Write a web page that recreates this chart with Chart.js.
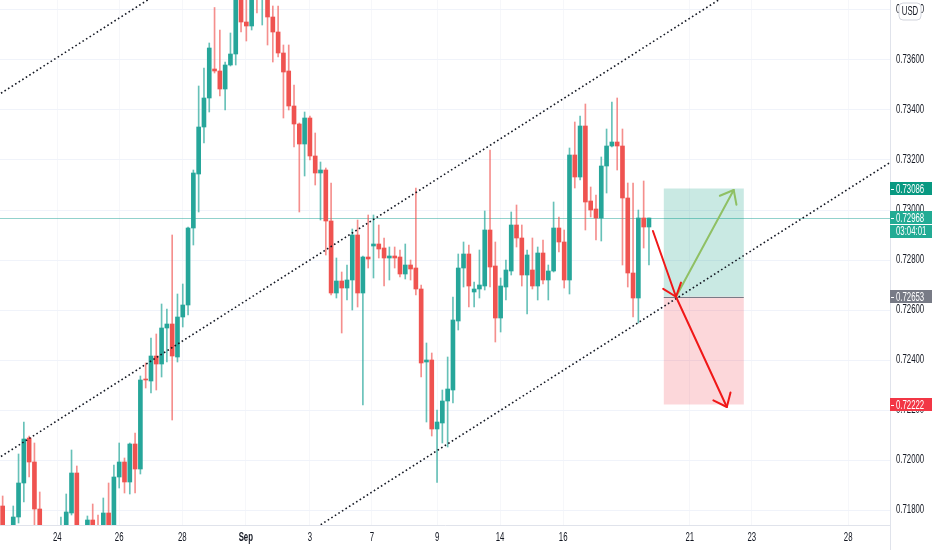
<!DOCTYPE html>
<html>
<head>
<meta charset="utf-8">
<script src="https://cdn.jsdelivr.net/npm/chart.js@4.4.0/dist/chart.umd.min.js"></script>
<style>
    html, body { margin: 0; padding: 0; background: #fff; }
    #wrap { width: 932px; height: 550px; position: relative; }
</style>
</head>
<body>
<div id="wrap"><canvas id="chart"></canvas></div>
<script>
// 4H candles, index 0 = leftmost
const opens = [
    0.71816, 0.7169, 0.71732, 0.71772, 0.71908, 0.72088, 0.71992, 0.71804, 0.7172, 0.7166,
    0.7169, 0.7170, 0.71732, 0.71788, 0.71948, 0.7172, 0.71736, 0.7176, 0.7173, 0.71736,
    0.71788, 0.7174, 0.71932, 0.71992, 0.71912, 0.72064, 0.71964, 0.72324, 0.72316, 0.72416,
    0.72384, 0.72528, 0.72544, 0.72412, 0.72572, 0.7262, 0.72928, 0.73144, 0.73332, 0.73448,
    0.73564, 0.73556, 0.73484, 0.7358, 0.73624, 0.7388, 0.73752, 0.73736, 0.7392, 0.7387,
    0.7392, 0.73772, 0.73712, 0.73628, 0.73556, 0.73416, 0.73344, 0.73264, 0.73368, 0.73216,
    0.73148, 0.7316, 0.72956, 0.72668, 0.72716, 0.72688, 0.7272, 0.729, 0.72668, 0.72812,
    0.72856, 0.72864, 0.72848, 0.72808, 0.72816, 0.72812, 0.72744, 0.7278, 0.72768, 0.72684,
    0.72392, 0.724, 0.72124, 0.72148, 0.72236, 0.7228, 0.72556, 0.72768, 0.72824, 0.72672,
    0.72684, 0.72696, 0.7292, 0.72776, 0.72568, 0.72692, 0.72756, 0.7294, 0.72888, 0.7274,
    0.7276, 0.72696, 0.72828, 0.7272, 0.72756, 0.72928, 0.72872, 0.7272, 0.7322, 0.73132,
    0.73336, 0.73036, 0.73004, 0.72968, 0.73176, 0.73256, 0.73272, 0.73256, 0.73048, 0.72748,
    0.72648, 0.72968, 0.72932
];
const highs = [
    0.71856, 0.7173, 0.71816, 0.72024, 0.72152, 0.72096, 0.72068, 0.71872, 0.7173, 0.7172,
    0.7173, 0.71772, 0.71864, 0.7204, 0.71976, 0.7173, 0.71776, 0.71824, 0.7178, 0.71848,
    0.71908, 0.7198, 0.72068, 0.72008, 0.72068, 0.72108, 0.72336, 0.72388, 0.72488, 0.72504,
    0.72624, 0.72604, 0.729, 0.72664, 0.72704, 0.72932, 0.7316, 0.73496, 0.73568, 0.73668,
    0.7381, 0.7372, 0.73592, 0.73708, 0.7392, 0.7394, 0.7386, 0.7393, 0.7398, 0.7399,
    0.7396, 0.73816, 0.73816, 0.7366, 0.7366, 0.735, 0.73348, 0.73392, 0.73376, 0.73308,
    0.73192, 0.73168, 0.73108, 0.72808, 0.72752, 0.7278, 0.72924, 0.7296, 0.72816, 0.7298,
    0.7298, 0.7294, 0.72888, 0.72852, 0.72852, 0.7284, 0.72864, 0.728, 0.73088, 0.727,
    0.72468, 0.72428, 0.722, 0.7228, 0.72412, 0.72652, 0.72824, 0.72872, 0.7286, 0.72712,
    0.7284, 0.72996, 0.7324, 0.72872, 0.72728, 0.728, 0.72992, 0.7302, 0.7294, 0.7284,
    0.72888, 0.72852, 0.7288, 0.7278, 0.73032, 0.72972, 0.7292, 0.73248, 0.73352, 0.73376,
    0.73424, 0.73092, 0.7306, 0.73212, 0.73324, 0.73432, 0.73448, 0.73324, 0.73108, 0.73108,
    0.73, 0.73116, 0.72968
];
const lows = [
    0.7168, 0.7165, 0.71712, 0.71748, 0.71832, 0.71932, 0.71736, 0.71696, 0.7162, 0.716,
    0.7164, 0.7166, 0.7171, 0.7178, 0.7169, 0.7165, 0.7171, 0.717, 0.7168, 0.717,
    0.717, 0.7172, 0.71888, 0.71868, 0.71864, 0.71868, 0.71944, 0.72288, 0.72268, 0.7228,
    0.72332, 0.72392, 0.7216, 0.72392, 0.72532, 0.7258, 0.7286, 0.72992, 0.73268, 0.73392,
    0.73548, 0.73456, 0.734, 0.73576, 0.7358, 0.73712, 0.73676, 0.7372, 0.73788, 0.7374,
    0.7366, 0.73592, 0.73612, 0.73368, 0.734, 0.73252, 0.72992, 0.73136, 0.732, 0.731,
    0.7296, 0.7282, 0.7266, 0.72648, 0.72508, 0.7264, 0.726, 0.72612, 0.7222, 0.72768,
    0.72728, 0.72808, 0.72696, 0.7272, 0.72768, 0.72732, 0.72724, 0.7272, 0.7266, 0.72332,
    0.72152, 0.72096, 0.7191, 0.72068, 0.72052, 0.72228, 0.7252, 0.72692, 0.72612, 0.72612,
    0.72648, 0.7268, 0.72692, 0.72472, 0.72512, 0.7264, 0.7274, 0.72852, 0.72696, 0.72584,
    0.72684, 0.7264, 0.72704, 0.7264, 0.72752, 0.72832, 0.72688, 0.72664, 0.73088, 0.7312,
    0.7292, 0.72972, 0.7288, 0.72876, 0.73068, 0.73252, 0.7316, 0.7278, 0.72692, 0.72572,
    0.72548, 0.72848, 0.7278
];
const closes = [
    0.7170, 0.7172, 0.71772, 0.71908, 0.72084, 0.71992, 0.71804, 0.7172, 0.7166, 0.7169,
    0.7171, 0.7173, 0.71792, 0.71948, 0.7172, 0.7168, 0.7176, 0.71736, 0.7171, 0.71788,
    0.71736, 0.71932, 0.71992, 0.71912, 0.72064, 0.71964, 0.7232, 0.7232, 0.72416, 0.72384,
    0.72528, 0.72544, 0.72416, 0.72572, 0.7262, 0.72928, 0.73148, 0.73332, 0.73448, 0.73648,
    0.73556, 0.73484, 0.7358, 0.73624, 0.7388, 0.73752, 0.73736, 0.7390, 0.7388, 0.7393,
    0.73772, 0.73712, 0.73628, 0.73552, 0.73416, 0.73344, 0.73264, 0.73368, 0.73216, 0.73148,
    0.7316, 0.72956, 0.72668, 0.72716, 0.72688, 0.7272, 0.729, 0.72668, 0.72812, 0.72804,
    0.72864, 0.72844, 0.72808, 0.72816, 0.72808, 0.72744, 0.7278, 0.72764, 0.72684, 0.72388,
    0.724, 0.72124, 0.72152, 0.72236, 0.72284, 0.7256, 0.72768, 0.72824, 0.72696, 0.72684,
    0.727, 0.7292, 0.72772, 0.72568, 0.72696, 0.7276, 0.7294, 0.72888, 0.7274, 0.7282,
    0.72696, 0.72828, 0.7272, 0.72756, 0.72928, 0.72872, 0.7272, 0.7322, 0.73132, 0.73336,
    0.73032, 0.73, 0.72968, 0.73176, 0.73256, 0.73272, 0.73256, 0.73048, 0.72748, 0.72648,
    0.72968, 0.72932, 0.72968
];

// time axis labels (candle index where each label sits)
const tickPos = [10.3, 22, 33.9, 45.9, 58, 69.7, 82, 93.9, 105.8, 129.7, 141.4, 159.6];
const tickLabels = ['24', '26', '28', 'Sep', '3', '7', '9', '14', '16', '21', '23', '28'];

// dotted channel lines, [index, price]
const channelTop = [[-5, 0.73404], [40, 0.7401]];
const channelMid = [[-5, 0.71951], [145, 0.73973]];
const channelLow = [[50, 0.71606], [175, 0.73291]];

// long position tool + arrows
const targetPrice = 0.73086;
const entryPrice = 0.72653;
const stopPrice = 0.72222;
const lastPrice = 0.72968;
const countdown = '03:04:01';
const boxRange = [124.8, 139.9];
const arrowIn = [[122.75, 0.72916], [127.1, 0.72653]];
const arrowDown = [[127.1, 0.72653], [136.7, 0.72212]];
const arrowUp = [[127.1, 0.72653], [138.0, 0.7308]];

const UP = '#26a69a', DOWN = '#ef5350';
const UP_WICK = 'rgba(38,166,154,0.7)', DOWN_WICK = 'rgba(239,83,80,0.65)';
const FONT = "'Liberation Sans', Arial, sans-serif";
const SQUEEZE = 0.65;   // the snapshot's text is horizontally squeezed

const idx = opens.map((_, i) => i);
const isUp = i => closes[i] >= opens[i];
const toXY = pts => pts.map(p => ({ x: p[0], y: p[1] }));

function squeezedText(ctx, text, x, y, align, font, color) {
    ctx.save();
    ctx.font = font;
    ctx.fillStyle = color;
    ctx.textAlign = align;
    ctx.textBaseline = 'middle';
    ctx.translate(x, y);
    ctx.scale(SQUEEZE, 1);
    ctx.fillText(text, 0, 0);
    ctx.restore();
}

function drawArrow(ctx, p0, p1, color) {
    ctx.strokeStyle = color;
    ctx.lineWidth = 2;
    ctx.lineCap = 'round';
    ctx.lineJoin = 'round';
    ctx.beginPath();
    ctx.moveTo(p0.x, p0.y);
    ctx.lineTo(p1.x, p1.y);
    ctx.stroke();
    const ang = Math.atan2(p1.y - p0.y, p1.x - p0.x);
    const len = 15, spread = 0.68;
    ctx.beginPath();
    ctx.moveTo(p1.x - len * Math.cos(ang - spread), p1.y - len * Math.sin(ang - spread));
    ctx.lineTo(p1.x, p1.y);
    ctx.lineTo(p1.x - len * Math.cos(ang + spread), p1.y - len * Math.sin(ang + spread));
    ctx.stroke();
}

function badge(ctx, left, yc, text, bg, tick) {
    const h = 13;
    ctx.fillStyle = bg;
    ctx.fillRect(left, Math.round(yc - h / 2), 42, h);
    if (tick) {
        ctx.fillStyle = '#fff';
        ctx.fillRect(left + 1, Math.round(yc), 3, 1);
    }
    squeezedText(ctx, text, left + 6, Math.round(yc) + 0.5, 'left', '12px ' + FONT, '#fff');
}

const overlay = {
    id: 'overlay',
    beforeDatasetsDraw(chart) {
        const { ctx, chartArea: a, scales: { x, y } } = chart;
        ctx.save();
        ctx.beginPath();
        ctx.rect(a.left, a.top, a.width, a.height);
        ctx.clip();

        // last price line
        const ly = Math.round(y.getPixelForValue(lastPrice)) + 0.5;
        ctx.strokeStyle = 'rgba(38,166,154,0.5)';
        ctx.lineWidth = 1;
        ctx.beginPath();
        ctx.moveTo(a.left, ly);
        ctx.lineTo(a.right, ly);
        ctx.stroke();

        // position box
        const x0 = x.getPixelForValue(boxRange[0]);
        const x1 = x.getPixelForValue(boxRange[1]);
        const yt = y.getPixelForValue(targetPrice);
        const ye = y.getPixelForValue(entryPrice);
        const ys = y.getPixelForValue(stopPrice);
        ctx.fillStyle = 'rgba(8,153,129,0.22)';
        ctx.fillRect(x0, yt, x1 - x0, ye - yt);
        ctx.fillStyle = 'rgba(242,54,69,0.2)';
        ctx.fillRect(x0, ye, x1 - x0, ys - ye);
        ctx.strokeStyle = '#787b86';
        ctx.beginPath();
        ctx.moveTo(x0, Math.round(ye) + 0.5);
        ctx.lineTo(x1, Math.round(ye) + 0.5);
        ctx.stroke();
        ctx.restore();
    },
    afterDatasetsDraw(chart) {
        const { ctx, chartArea: a, scales: { x, y } } = chart;
        const px = p => ({ x: x.getPixelForValue(p[0]), y: y.getPixelForValue(p[1]) });
        ctx.save();
        ctx.beginPath();
        ctx.rect(a.left, a.top, a.width, a.height);
        ctx.clip();
        drawArrow(ctx, px(arrowUp[0]), px(arrowUp[1]), '#8fc064');
        drawArrow(ctx, px(arrowIn[0]), px(arrowIn[1]), '#f01818');
        drawArrow(ctx, px(arrowDown[0]), px(arrowDown[1]), '#f01818');
        ctx.restore();
    },
    afterDraw(chart) {
        const { ctx, chartArea: a, scales: { x, y } } = chart;
        const left = a.right;
        ctx.save();
        // axis separator down through the time scale
        ctx.strokeStyle = '#e0e3eb';
        ctx.lineWidth = 1;
        ctx.beginPath();
        ctx.moveTo(left + 0.5, a.bottom);
        ctx.lineTo(left + 0.5, chart.height);
        ctx.stroke();

        // tick labels from the scales
        y.ticks.forEach((t, i) => {
            squeezedText(ctx, t.value.toFixed(5), left + 6, y.getPixelForTick(i),
                'left', '12px ' + FONT, '#131722');
        });
        x.ticks.forEach((t, i) => {
            const lbl = tickLabels[i];
            const f = (lbl === 'Sep' ? 'bold ' : '') + '12px ' + FONT;
            squeezedText(ctx, lbl, x.getPixelForTick(i), a.bottom + 12.5, 'center', f, '#131722');
        });

        badge(ctx, left, y.getPixelForValue(targetPrice), targetPrice.toFixed(5), '#089981', true);
        const lp = y.getPixelForValue(lastPrice);
        badge(ctx, left, lp, lastPrice.toFixed(5), '#22ab94', true);
        badge(ctx, left, lp + 13.5, countdown, '#22ab94', false);
        badge(ctx, left, y.getPixelForValue(entryPrice), entryPrice.toFixed(5), '#787b86', true);
        badge(ctx, left, y.getPixelForValue(stopPrice), stopPrice.toFixed(5), '#f23645', true);

        // currency box
        const bx = left + 9, by = 3, bw = 22, bh = 17, r = 4;
        ctx.beginPath();
        ctx.roundRect(bx, by, bw, bh, r);
        ctx.fillStyle = '#fff';
        ctx.fill();
        ctx.strokeStyle = '#d1d4dc';
        ctx.lineWidth = 1;
        ctx.stroke();
        squeezedText(ctx, 'USD', bx + bw / 2, by + bh / 2 + 0.5, 'center', '12px ' + FONT, '#131722');
        ctx.restore();
    }
};

new Chart(document.getElementById('chart'), {
    type: 'bar',
    data: {
        datasets: [
            {
                label: 'body',
                data: idx.map(i => ({ x: i, y: [opens[i], closes[i]] })),
                backgroundColor: ctx => isUp(ctx.dataIndex) ? UP : DOWN,
                barThickness: 4,
                minBarLength: 1,
                grouped: false,
                order: 2
            },
            {
                label: 'wick',
                data: idx.map(i => ({ x: i, y: [lows[i], highs[i]] })),
                backgroundColor: ctx => isUp(ctx.dataIndex) ? UP_WICK : DOWN_WICK,
                barThickness: 1,
                grouped: false,
                order: 3
            },
            {
                type: 'line',
                data: toXY(channelTop),
                borderColor: '#131722',
                borderWidth: 1.6,
                borderDash: [1.6, 2.6],
                pointRadius: 0,
                fill: false,
                order: 0
            },
            {
                type: 'line',
                data: toXY(channelMid),
                borderColor: '#131722',
                borderWidth: 1.6,
                borderDash: [1.6, 2.6],
                pointRadius: 0,
                fill: false,
                order: 0
            },
            {
                type: 'line',
                data: toXY(channelLow),
                borderColor: '#131722',
                borderWidth: 1.6,
                borderDash: [1.6, 2.6],
                pointRadius: 0,
                fill: false,
                order: 0
            }
        ]
    },
    options: {
        responsive: true,
        maintainAspectRatio: false,
        animation: false,
        layout: { padding: 0, autoPadding: false },
        plugins: {
            legend: { display: false },
            tooltip: { enabled: false }
        },
        scales: {
            x: {
                type: 'linear',
                min: -0.5,
                max: 167.5,
                offset: false,
                grid: { offset: false, color: '#f6f7fa', drawTicks: false },
                border: { display: true, color: '#e0e3eb' },
                afterBuildTicks: scale => {
                    scale.ticks = tickPos.map(v => ({ value: v }));
                },
                afterFit: scale => {
                    scale.height = 25;
                    scale.paddingLeft = 0;
                    scale.paddingRight = 0;
                },
                ticks: { display: false }
            },
            y: {
                type: 'linear',
                position: 'right',
                min: 0.7174,
                max: 0.7384,
                grid: { color: '#f0f3fa', drawTicks: false },
                border: { display: true, color: '#e0e3eb' },
                afterFit: scale => {
                    scale.width = 42;
                    scale.paddingTop = 0;
                    scale.paddingBottom = 0;
                },
                ticks: {
                    display: false,
                    stepSize: 0.002,
                    includeBounds: false
                }
            }
        }
    },
    plugins: [overlay]
});
</script>
</body>
</html>
